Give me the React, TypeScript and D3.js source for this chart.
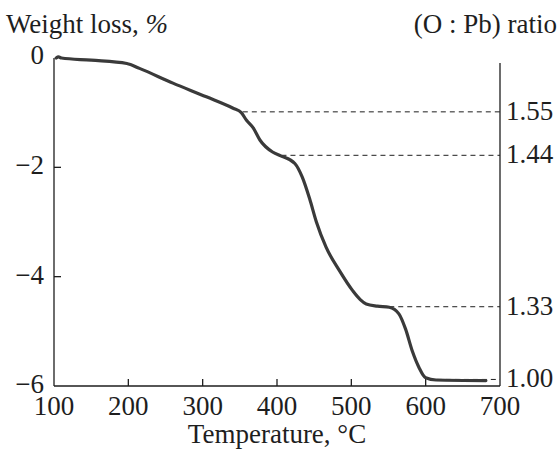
import React from "react";
import * as d3 from "d3";

const temps = [103, 106, 110, 150, 198, 215, 260, 305, 341, 352, 359, 368, 377, 394, 405, 424, 434, 444, 453, 466, 484, 502, 512, 520, 535, 551, 564, 573, 582, 591, 600, 614, 681];
const weights = [0.0, 0.02, 0.0, -0.04, -0.1, -0.19, -0.46, -0.71, -0.92, -1.0, -1.14, -1.28, -1.5, -1.72, -1.79, -1.93, -2.18, -2.58, -3.0, -3.46, -3.89, -4.26, -4.42, -4.5, -4.54, -4.56, -4.68, -4.96, -5.36, -5.66, -5.85, -5.89, -5.9];

const xTicks = [100, 200, 300, 400, 500, 600, 700];
const yTicks = [0, -2, -4, -6];
const ratioLabels = ["1.55", "1.44", "1.33", "1.00"];
const ratioWeights = [-0.985, -1.78, -4.55, -5.88];
const ratioStartT = [354, 406, 551, 615];

const W = 557, H = 452;
const FONT = "'Liberation Serif', 'Times New Roman', serif";
const FS = 27;

export default function App() {
  const x = d3.scaleLinear().domain([100, 700]).range([54, 500]);
  const y = d3.scaleLinear().domain([-6, 0]).range([386, 58]);
  const pts = temps.map((t, i) => [t, weights[i]] as [number, number]);
  const line = d3.line<[number, number]>().x(d => x(d[0])).y(d => y(d[1])).curve(d3.curveMonotoneX);
  const x0 = x(100), x1 = x(700), yb = y(-6), yt = y(0);
  const ink = "#1e1e1e";
  const yLabelDy = (t: number) => (t === 0 ? 6 : 7);
  return (
    <div style={{ position: "fixed", left: 0, top: 0 }}>
      <svg width={W} height={H} style={{ display: "block", background: "#fff" }} fontFamily={FONT}>
        {/* axes */}
        <line x1={x0} y1={yt} x2={x0} y2={yb} stroke={ink} strokeWidth={1.3} />
        <line x1={x0} y1={yb} x2={x1} y2={yb} stroke={ink} strokeWidth={1.3} />
        <line x1={x1} y1={63} x2={x1} y2={yb} stroke={ink} strokeWidth={1.3} />
        {xTicks.slice(1, -1).map(t => (
          <line key={"xt" + t} x1={x(t)} x2={x(t)} y1={yb} y2={yb - 7} stroke={ink} strokeWidth={1.3} />
        ))}
        {yTicks.slice(1, -1).map(t => (
          <line key={"yt" + t} x1={x0} x2={x0 + 7} y1={y(t)} y2={y(t)} stroke={ink} strokeWidth={1.3} />
        ))}
        {xTicks.map(t => (
          <text key={"xl" + t} x={x(t)} y={yb + 29} textAnchor="middle" fontSize={FS} fill={ink}>{t}</text>
        ))}
        {yTicks.map(t => (
          <text key={"yl" + t} x={44} y={y(t) + yLabelDy(t)} textAnchor="end" fontSize={FS} fill={ink}>
            {t === 0 ? "0" : "\u2212" + Math.abs(t)}
          </text>
        ))}
        {/* dashed ratio lines */}
        {ratioLabels.map((r, i) => (
          <g key={"r" + r}>
            <line x1={x(ratioStartT[i])} x2={x1} y1={y(ratioWeights[i])} y2={y(ratioWeights[i])} stroke={ink} strokeWidth={1} strokeDasharray="5,4" />
            <text x={x1 + 6} y={y(ratioWeights[i]) + 8} fontSize={FS} fill={ink}>{r}</text>
          </g>
        ))}
        {/* curve */}
        <path d={line(pts) || ""} fill="none" stroke="#3a3a3a" strokeWidth={3.2} strokeLinejoin="round" strokeLinecap="round" />
        {/* titles */}
        <text x={6} y={33} fontSize={FS} fill={ink}>Weight loss, <tspan fontStyle="italic">%</tspan></text>
        <text x={557} y={33} textAnchor="end" fontSize={FS} fill={ink}>(O : Pb) ratio</text>
        <text x={(x0 + x1) / 2} y={443} textAnchor="middle" fontSize={FS} fill={ink}>Temperature, °C</text>
      </svg>
    </div>
  );
}
